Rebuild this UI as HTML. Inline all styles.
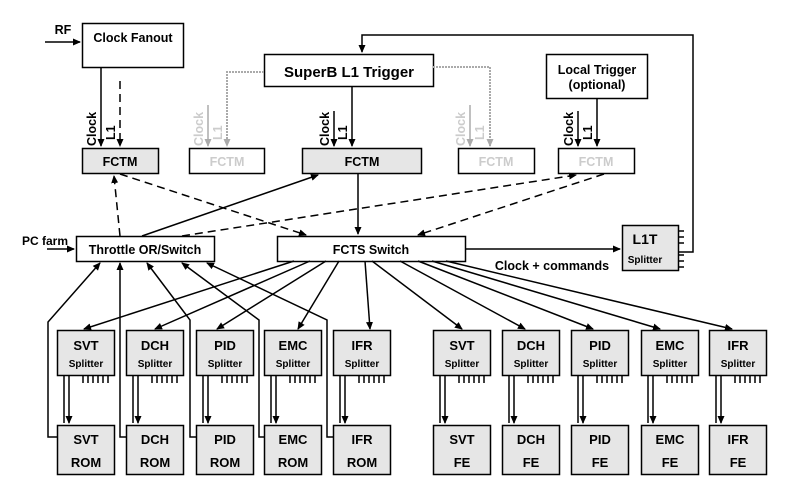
<!DOCTYPE html>
<html><head><meta charset="utf-8"><style>
body{margin:0;background:#fff}
text{font-family:"Liberation Sans",Arial,sans-serif;font-weight:bold}
.b{fill:#e6e6e6;stroke:#000;stroke-width:1.5}
.t{fill:none;stroke:#000;stroke-width:1.5}
.n{font-size:13px;text-anchor:middle}
.s{font-size:10px;text-anchor:middle}
</style></head><body>
<svg width="789" height="498" viewBox="0 0 789 498" xmlns="http://www.w3.org/2000/svg">
<defs>
<marker id="a" markerWidth="8" markerHeight="8" refX="7" refY="4" orient="auto" markerUnits="userSpaceOnUse"><path d="M0,0.5 L8,4 L0,7.5z" fill="#000"/></marker>
<marker id="g" markerWidth="8" markerHeight="8" refX="7" refY="4" orient="auto" markerUnits="userSpaceOnUse"><path d="M0,0.5 L8,4 L0,7.5z" fill="#aaa"/></marker>
<g id="blk">
<rect class="b" x="0.5" y="330.5" width="57" height="45"/>
<rect class="b" x="0.5" y="425.5" width="57" height="49"/>
<path class="t" d="M7 375V423M12 375V423" marker-end="url(#a)"/>
<path class="t" d="M26 375V383M31 375V383M36 375V383M41 375V383M46 375V383M51 375V383"/>
</g>
</defs>
<g stroke="#000" stroke-width="1.5" fill="none">
<rect x="82.5" y="23.5" width="101" height="44" fill="#fff"/>
<rect x="264.5" y="54.5" width="169" height="32" fill="#fff"/>
<rect x="546.5" y="54.5" width="101" height="44" fill="#fff"/>
<rect x="82.5" y="148.5" width="76" height="25" fill="#e6e6e6"/>
<rect x="189.5" y="148.5" width="75" height="25" fill="#fff"/>
<rect x="302.5" y="148.5" width="119" height="25" fill="#e6e6e6"/>
<rect x="458.5" y="148.5" width="76" height="25" fill="#fff"/>
<rect x="558.5" y="148.5" width="76" height="25" fill="#fff"/>
<rect x="76.5" y="236.5" width="138" height="25" fill="#fff"/>
<rect x="277.5" y="236.5" width="188" height="25" fill="#fff"/>
<rect x="622.5" y="225.5" width="56" height="45" fill="#e6e6e6"/>
<path d="M678 231h6M678 237h6M678 243h6M678 255h6M678 261h6M678 267h6"/>
<path d="M678 252H693V35H362V52" marker-end="url(#a)"/>
<path d="M45 42H80" marker-end="url(#a)"/>
<path d="M47 249H74" marker-end="url(#a)"/>
<path d="M101 67V146" marker-end="url(#a)"/>
<path d="M120 81V146" stroke-dasharray="8,5" marker-end="url(#a)"/>
<path d="M334 111V146" marker-end="url(#a)"/>
<path d="M352 86V146" marker-end="url(#a)"/>
<path d="M578 111V146" marker-end="url(#a)"/>
<path d="M597 98V146" marker-end="url(#a)"/>
<path d="M120 174L306 235" stroke-dasharray="8,5" marker-end="url(#a)"/>
<path d="M120 236L114 176" stroke-dasharray="8,5" marker-end="url(#a)"/>
<path d="M142 236L318 175" marker-end="url(#a)"/>
<path d="M182 236L576 175" stroke-dasharray="8,5" marker-end="url(#a)"/>
<path d="M604 174L418 235" stroke-dasharray="8,5" marker-end="url(#a)"/>
<path d="M358 174V234" marker-end="url(#a)"/>
<path d="M466 249H620" marker-end="url(#a)"/>
<path d="M294 261L84 329" marker-end="url(#a)"/>
<path d="M310 261L155 329" marker-end="url(#a)"/>
<path d="M326 261L217 329" marker-end="url(#a)"/>
<path d="M339 261L298 329" marker-end="url(#a)"/>
<path d="M365 261L370 329" marker-end="url(#a)"/>
<path d="M372 261L462 329" marker-end="url(#a)"/>
<path d="M400 261L525 329" marker-end="url(#a)"/>
<path d="M418 261L593 329" marker-end="url(#a)"/>
<path d="M432 261L660 329" marker-end="url(#a)"/>
<path d="M446 261L732 329" marker-end="url(#a)"/>
<path d="M57 437H48V322L100 263" marker-end="url(#a)"/>
<path d="M126 437H120V263" marker-end="url(#a)"/>
<path d="M196 437H190V320L147 263" marker-end="url(#a)"/>
<path d="M264 437H259V320L182 263" marker-end="url(#a)"/>
<path d="M333 437H327V320L207 263" marker-end="url(#a)"/>
</g>
<g stroke="#aaa" stroke-width="2" fill="none" stroke-dasharray="2,1">
<path d="M264 72H227V146" marker-end="url(#g)"/>
<path d="M433 67H490V146" marker-end="url(#g)"/>
</g>
<g stroke="#aaa" stroke-width="1.5" fill="none">
<path d="M208 105V146" marker-end="url(#g)"/>
<path d="M470 105V146" marker-end="url(#g)"/>
</g>
<use href="#blk" x="57"/><use href="#blk" x="126"/><use href="#blk" x="196"/><use href="#blk" x="264"/><use href="#blk" x="333"/>
<use href="#blk" x="433"/><use href="#blk" x="502"/><use href="#blk" x="571"/><use href="#blk" x="641"/><use href="#blk" x="709"/>
<g>
<text class="n" x="86" y="350">SVT</text><text class="s" x="86" y="367">Splitter</text><text class="n" x="86" y="444">SVT</text><text class="n" x="86" y="467">ROM</text>
<text class="n" x="155" y="350">DCH</text><text class="s" x="155" y="367">Splitter</text><text class="n" x="155" y="444">DCH</text><text class="n" x="155" y="467">ROM</text>
<text class="n" x="225" y="350">PID</text><text class="s" x="225" y="367">Splitter</text><text class="n" x="225" y="444">PID</text><text class="n" x="225" y="467">ROM</text>
<text class="n" x="293" y="350">EMC</text><text class="s" x="293" y="367">Splitter</text><text class="n" x="293" y="444">EMC</text><text class="n" x="293" y="467">ROM</text>
<text class="n" x="362" y="350">IFR</text><text class="s" x="362" y="367">Splitter</text><text class="n" x="362" y="444">IFR</text><text class="n" x="362" y="467">ROM</text>
<text class="n" x="462" y="350">SVT</text><text class="s" x="462" y="367">Splitter</text><text class="n" x="462" y="444">SVT</text><text class="n" x="462" y="467">FE</text>
<text class="n" x="531" y="350">DCH</text><text class="s" x="531" y="367">Splitter</text><text class="n" x="531" y="444">DCH</text><text class="n" x="531" y="467">FE</text>
<text class="n" x="600" y="350">PID</text><text class="s" x="600" y="367">Splitter</text><text class="n" x="600" y="444">PID</text><text class="n" x="600" y="467">FE</text>
<text class="n" x="670" y="350">EMC</text><text class="s" x="670" y="367">Splitter</text><text class="n" x="670" y="444">EMC</text><text class="n" x="670" y="467">FE</text>
<text class="n" x="738" y="350">IFR</text><text class="s" x="738" y="367">Splitter</text><text class="n" x="738" y="444">IFR</text><text class="n" x="738" y="467">FE</text>
</g>
<g font-size="12.5" text-anchor="middle">
<text x="133" y="42">Clock Fanout</text>
<text x="349" y="77" font-size="15">SuperB L1 Trigger</text>
<text x="597" y="74">Local Trigger</text>
<text x="597" y="89">(optional)</text>
<text x="120" y="166">FCTM</text>
<text x="227" y="166" fill="#ccc" font-weight="normal">FCTM</text>
<text x="362" y="166">FCTM</text>
<text x="496" y="166" fill="#ccc" font-weight="normal">FCTM</text>
<text x="596" y="166" fill="#ccc" font-weight="normal">FCTM</text>
<text x="145" y="254">Throttle OR/Switch</text>
<text x="371" y="254">FCTS Switch</text>
<text x="645" y="244" font-size="14">L1T</text>
<text x="645" y="263" font-size="10">Splitter</text>
<text x="552" y="270">Clock + commands</text>
<text x="63" y="34">RF</text>
<text x="22" y="245" font-size="12" text-anchor="start">PC farm</text>
<text transform="translate(96,146) rotate(-90)" text-anchor="start">Clock</text>
<text transform="translate(115,140) rotate(-90)" text-anchor="start">L1</text>
<text transform="translate(329,146) rotate(-90)" text-anchor="start">Clock</text>
<text transform="translate(347,140) rotate(-90)" text-anchor="start">L1</text>
<text transform="translate(573,146) rotate(-90)" text-anchor="start">Clock</text>
<text transform="translate(592,140) rotate(-90)" text-anchor="start">L1</text>
<text transform="translate(203,146) rotate(-90)" text-anchor="start" fill="#ccc" font-weight="normal">Clock</text>
<text transform="translate(222,140) rotate(-90)" text-anchor="start" fill="#ccc" font-weight="normal">L1</text>
<text transform="translate(465,146) rotate(-90)" text-anchor="start" fill="#ccc" font-weight="normal">Clock</text>
<text transform="translate(484,140) rotate(-90)" text-anchor="start" fill="#ccc" font-weight="normal">L1</text>
</g>
</svg>
</body></html>
